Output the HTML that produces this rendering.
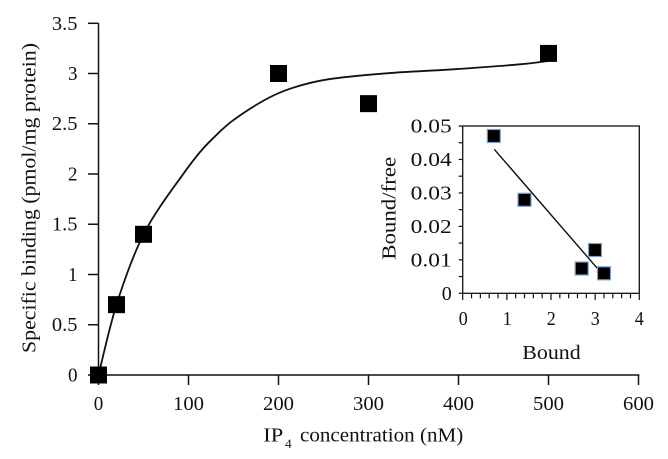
<!DOCTYPE html>
<html>
<head>
<meta charset="utf-8">
<style>
  html, body { margin: 0; padding: 0; background: #ffffff; }
  svg { display: block; font-family: "Liberation Serif", "Times New Roman", Tinos, serif; }
  svg text { font-family: "Liberation Serif", "Times New Roman", Tinos, serif; fill: #111; }
</style>
</head>
<body>
<svg width="668" height="459" viewBox="0 0 668 459" xmlns="http://www.w3.org/2000/svg" font-family="'Liberation Serif', 'Times New Roman', serif">
  <rect x="0" y="0" width="668" height="459" fill="#ffffff"/>

  <!-- Main axes -->
  <g stroke="#111" stroke-width="1.5" fill="none">
    <line x1="98.5" y1="23.3" x2="98.5" y2="375"/>
    <line x1="98.5" y1="375" x2="639.3" y2="375"/>
    <line x1="88" y1="375" x2="98.5" y2="375"/>
    <line x1="88" y1="324.75" x2="98.5" y2="324.75"/>
    <line x1="88" y1="274.5" x2="98.5" y2="274.5"/>
    <line x1="88" y1="224.25" x2="98.5" y2="224.25"/>
    <line x1="88" y1="174" x2="98.5" y2="174"/>
    <line x1="88" y1="123.75" x2="98.5" y2="123.75"/>
    <line x1="88" y1="73.5" x2="98.5" y2="73.5"/>
    <line x1="88" y1="23.3" x2="98.5" y2="23.3"/>
    <line x1="98.5" y1="375" x2="98.5" y2="385"/>
    <line x1="188.5" y1="375" x2="188.5" y2="385"/>
    <line x1="278.5" y1="375" x2="278.5" y2="385"/>
    <line x1="368.5" y1="375" x2="368.5" y2="385"/>
    <line x1="458.5" y1="375" x2="458.5" y2="385"/>
    <line x1="548.5" y1="375" x2="548.5" y2="385"/>
    <line x1="638.5" y1="375" x2="638.5" y2="385"/>
  </g>

  <!-- Main y tick labels -->
  <g font-size="20" text-anchor="end">
    <text x="77.5" y="381.5" textLength="9.5" lengthAdjust="spacingAndGlyphs">0</text>
    <text x="77.5" y="331.2" textLength="25.6" lengthAdjust="spacingAndGlyphs">0.5</text>
    <text x="77.5" y="281" textLength="9.5" lengthAdjust="spacingAndGlyphs">1</text>
    <text x="77.5" y="230.7" textLength="25.6" lengthAdjust="spacingAndGlyphs">1.5</text>
    <text x="77.5" y="180.5" textLength="9.5" lengthAdjust="spacingAndGlyphs">2</text>
    <text x="77.5" y="130.2" textLength="25.6" lengthAdjust="spacingAndGlyphs">2.5</text>
    <text x="77.5" y="80" textLength="9.5" lengthAdjust="spacingAndGlyphs">3</text>
    <text x="77.5" y="29.8" textLength="25.6" lengthAdjust="spacingAndGlyphs">3.5</text>
  </g>

  <!-- Main x tick labels -->
  <g font-size="20" text-anchor="middle">
    <text x="98.5" y="410" textLength="9.5" lengthAdjust="spacingAndGlyphs">0</text>
    <text x="188.5" y="410" textLength="31" lengthAdjust="spacingAndGlyphs">100</text>
    <text x="278.5" y="410" textLength="31" lengthAdjust="spacingAndGlyphs">200</text>
    <text x="368.5" y="410" textLength="31" lengthAdjust="spacingAndGlyphs">300</text>
    <text x="458.5" y="410" textLength="31" lengthAdjust="spacingAndGlyphs">400</text>
    <text x="548.5" y="410" textLength="31" lengthAdjust="spacingAndGlyphs">500</text>
    <text x="638.5" y="410" textLength="31" lengthAdjust="spacingAndGlyphs">600</text>
  </g>

  <!-- Main axis titles -->
  <text x="263.3" y="441.7" font-size="20" textLength="20" lengthAdjust="spacingAndGlyphs">IP</text>
  <text x="285" y="448" font-size="13" textLength="6.7" lengthAdjust="spacingAndGlyphs">4</text>
  <text x="300" y="441.7" font-size="20" textLength="163.3" lengthAdjust="spacingAndGlyphs">concentration (nM)</text>

  <text transform="translate(35.5,198) rotate(-90)" font-size="20" text-anchor="middle" textLength="310" lengthAdjust="spacingAndGlyphs">Specific binding (pmol/mg protein)</text>

  <!-- Main fitted curve -->
  <path fill="none" stroke="#111" stroke-width="1.8" d="
    M98.5,375
    C101.6,363 109.5,326.4 117,303
    C124.5,279.6 132.8,255.6 143.5,234.5
    C154.2,213.45 169.5,193 181.3,176.7
    C192.05,161.5 199.7,151.5 208,143.3
    C216.3,135.1 222.5,128.4 231.3,121.7
    C240.75,114.5 254.7,105.6 264.7,100
    C274.7,94.4 280.75,91.75 291.3,88.3
    C301.85,84.85 312.1,81.8 328,79.3
    C343.9,76.8 365.8,74.97 386.7,73.3
    C407.6,71.6 431.1,70.8 453.3,69.3
    C475.5,67.8 504.2,65.7 520,64.3
    C535.8,62.9 543.3,61.55 548,61"/>

  <!-- Main markers -->
  <g fill="#000">
    <rect x="90" y="366.5" width="17" height="17"/>
    <rect x="108" y="296.15" width="17" height="17"/>
    <rect x="135" y="225.8" width="17" height="17"/>
    <rect x="270" y="65" width="17" height="17"/>
    <rect x="360" y="95.15" width="17" height="17"/>
    <rect x="540" y="44.9" width="17" height="17"/>
  </g>

  <!-- Inset -->
  <rect x="462.7" y="126" width="176.6" height="167.3" fill="#fff" stroke="#111" stroke-width="1.3"/>
  <g stroke="#111" stroke-width="1.2">
    <line x1="458.7" y1="293.3" x2="462.7" y2="293.3"/>
    <line x1="458.7" y1="276.57" x2="462.7" y2="276.57"/>
    <line x1="458.7" y1="259.84" x2="462.7" y2="259.84"/>
    <line x1="458.7" y1="243.11" x2="462.7" y2="243.11"/>
    <line x1="458.7" y1="226.38" x2="462.7" y2="226.38"/>
    <line x1="458.7" y1="209.65" x2="462.7" y2="209.65"/>
    <line x1="458.7" y1="192.92" x2="462.7" y2="192.92"/>
    <line x1="458.7" y1="176.19" x2="462.7" y2="176.19"/>
    <line x1="458.7" y1="159.46" x2="462.7" y2="159.46"/>
    <line x1="458.7" y1="142.73" x2="462.7" y2="142.73"/>
    <line x1="458.7" y1="126" x2="462.7" y2="126"/>
    <line x1="462.7" y1="293.3" x2="462.7" y2="300"/>
    <line x1="471.53" y1="293.3" x2="471.53" y2="298.3"/>
    <line x1="480.36" y1="293.3" x2="480.36" y2="298.3"/>
    <line x1="489.19" y1="293.3" x2="489.19" y2="298.3"/>
    <line x1="498.02" y1="293.3" x2="498.02" y2="298.3"/>
    <line x1="506.85" y1="293.3" x2="506.85" y2="300"/>
    <line x1="515.68" y1="293.3" x2="515.68" y2="298.3"/>
    <line x1="524.51" y1="293.3" x2="524.51" y2="298.3"/>
    <line x1="533.34" y1="293.3" x2="533.34" y2="298.3"/>
    <line x1="542.17" y1="293.3" x2="542.17" y2="298.3"/>
    <line x1="551" y1="293.3" x2="551" y2="300"/>
    <line x1="559.83" y1="293.3" x2="559.83" y2="298.3"/>
    <line x1="568.66" y1="293.3" x2="568.66" y2="298.3"/>
    <line x1="577.49" y1="293.3" x2="577.49" y2="298.3"/>
    <line x1="586.32" y1="293.3" x2="586.32" y2="298.3"/>
    <line x1="595.15" y1="293.3" x2="595.15" y2="300"/>
    <line x1="603.98" y1="293.3" x2="603.98" y2="298.3"/>
    <line x1="612.81" y1="293.3" x2="612.81" y2="298.3"/>
    <line x1="621.64" y1="293.3" x2="621.64" y2="298.3"/>
    <line x1="630.47" y1="293.3" x2="630.47" y2="298.3"/>
    <line x1="639.3" y1="293.3" x2="639.3" y2="300"/>
  </g>

  <!-- Inset y labels -->
  <g font-size="20" text-anchor="end">
    <text x="451.7" y="300" textLength="10" lengthAdjust="spacingAndGlyphs">0</text>
    <text x="451.7" y="266.5" textLength="41" lengthAdjust="spacingAndGlyphs">0.01</text>
    <text x="451.7" y="233.1" textLength="41" lengthAdjust="spacingAndGlyphs">0.02</text>
    <text x="451.7" y="199.6" textLength="41" lengthAdjust="spacingAndGlyphs">0.03</text>
    <text x="451.7" y="166.2" textLength="41" lengthAdjust="spacingAndGlyphs">0.04</text>
    <text x="451.7" y="132.7" textLength="41" lengthAdjust="spacingAndGlyphs">0.05</text>
  </g>
  <!-- Inset x labels -->
  <g font-size="20" text-anchor="middle">
    <text x="463.3" y="325" textLength="9" lengthAdjust="spacingAndGlyphs">0</text>
    <text x="507.3" y="325" textLength="9" lengthAdjust="spacingAndGlyphs">1</text>
    <text x="551.3" y="325" textLength="9" lengthAdjust="spacingAndGlyphs">2</text>
    <text x="595.3" y="325" textLength="9" lengthAdjust="spacingAndGlyphs">3</text>
    <text x="639.3" y="325" textLength="9" lengthAdjust="spacingAndGlyphs">4</text>
  </g>
  <text x="551.5" y="359" font-size="20" text-anchor="middle" textLength="58.4" lengthAdjust="spacingAndGlyphs">Bound</text>
  <text transform="translate(395.5,208.3) rotate(-90)" font-size="20" text-anchor="middle" textLength="103" lengthAdjust="spacingAndGlyphs">Bound/free</text>

  <!-- Inset regression line -->
  <line x1="494.3" y1="149.3" x2="597.3" y2="268.3" stroke="#111" stroke-width="1.4"/>

  <!-- Inset markers -->
  <g fill="#000" stroke="#7e9fc6" stroke-width="1.2">
    <rect x="487.3" y="129.5" width="13" height="13"/>
    <rect x="518" y="193.3" width="13" height="13"/>
    <rect x="575.2" y="262" width="13" height="13"/>
    <rect x="588.5" y="243.5" width="13" height="13"/>
    <rect x="597.5" y="266.8" width="13" height="13"/>
  </g>
</svg>
</body>
</html>
